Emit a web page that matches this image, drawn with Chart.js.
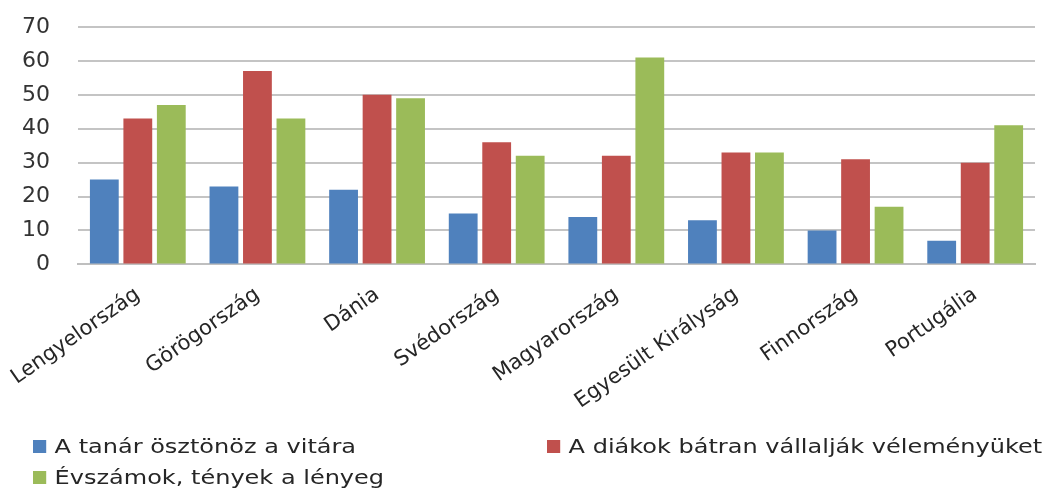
<!DOCTYPE html>
<html>
<head>
<meta charset="utf-8">
<script src="https://cdn.jsdelivr.net/npm/chart.js@4/dist/chart.umd.min.js"></script>
<style>
  html, body { margin: 0; padding: 0; background: #fff; }
  #wrap { position: relative; width: 1048px; height: 490px; }
  #c { position: absolute; left: 0; top: 0; }
  .leg { position: absolute; font-family: "DejaVu Sans", sans-serif; font-size: 20px; color: #262626; white-space: nowrap; display: flex; align-items: center; transform: scaleX(1.2); transform-origin: 0 50%; }
  .leg i { display: inline-block; width: 11px; height: 13px; margin-right: 7px; }
</style>
</head>
<body>
<div id="wrap">
  <canvas id="c" width="1048" height="490"></canvas>
  <div id="legend"></div>
</div>
<script>
const categories = ["Lengyelország", "Görögország", "Dánia", "Svédország", "Magyarország", "Egyesült Királyság", "Finnország", "Portugália"];
const seriesNames = ["A tanár ösztönöz a vitára", "A diákok bátran vállalják véleményüket", "Évszámok, tények a lényeg"];
const teacherEncourages = [25, 23, 22, 15, 14, 13, 10, 7];
const studentsBrave = [43, 57, 50, 36, 32, 33, 31, 30];
const datesFacts = [47, 43, 49, 32, 61, 33, 17, 41];
const yTicks = [0, 10, 20, 30, 40, 50, 60, 70];
const colors = ["#4F81BD", "#C0504D", "#9BBB59"];

const seriesValues = [teacherEncourages, studentsBrave, datesFacts];

const chart = new Chart(document.getElementById('c'), {
  type: 'bar',
  data: {
    labels: categories,
    datasets: seriesValues.map((vals, i) => ({
      label: seriesNames[i],
      data: vals,
      backgroundColor: colors[i],
      borderWidth: 0,
      categoryPercentage: 0.84,
      barPercentage: 0.86
    }))
  },
  options: {
    responsive: false,
    animation: false,
    devicePixelRatio: 1,
    layout: { padding: { left: 0, right: 13, top: 27, bottom: 58 } },
    plugins: {
      legend: { display: false },
      tooltip: { enabled: false }
    },
    scales: {
      x: {
        afterFit: (s) => { s.paddingLeft = 0; s.paddingRight = 0; },
        grid: { display: false, drawTicks: false },
        border: { display: true, color: '#BFBFBF', width: 2 },
        ticks: {
          minRotation: 35, maxRotation: 35,
          padding: 18,
          color: '#262626',
          font: { family: 'DejaVu Sans', size: 21 }
        }
      },
      y: {
        min: 0, max: 70,
        afterFit: (s) => { s.width = 78; s.paddingTop = 0; s.paddingBottom = 0; },
        afterBuildTicks: (axis) => { axis.ticks = yTicks.map(v => ({ value: v })); },
        grid: { color: '#C4C4C4', lineWidth: 2, drawTicks: false },
        border: { display: false },
        ticks: {
          padding: 28,
          color: '#333333',
          font: { family: 'DejaVu Sans', size: 22 }
        }
      }
    }
  }
});

const legend = document.getElementById('legend');
const legendPos = [[33, 447], [547, 447], [33, 478]];
seriesNames.forEach((name, i) => {
  const d = document.createElement('div');
  d.className = 'leg';
  d.style.left = legendPos[i][0] + 'px';
  d.style.top = (legendPos[i][1] - 13) + 'px';
  const sw = document.createElement('i');
  sw.style.background = colors[i];
  d.appendChild(sw);
  d.appendChild(document.createTextNode(name));
  legend.appendChild(d);
});
</script>
</body>
</html>
